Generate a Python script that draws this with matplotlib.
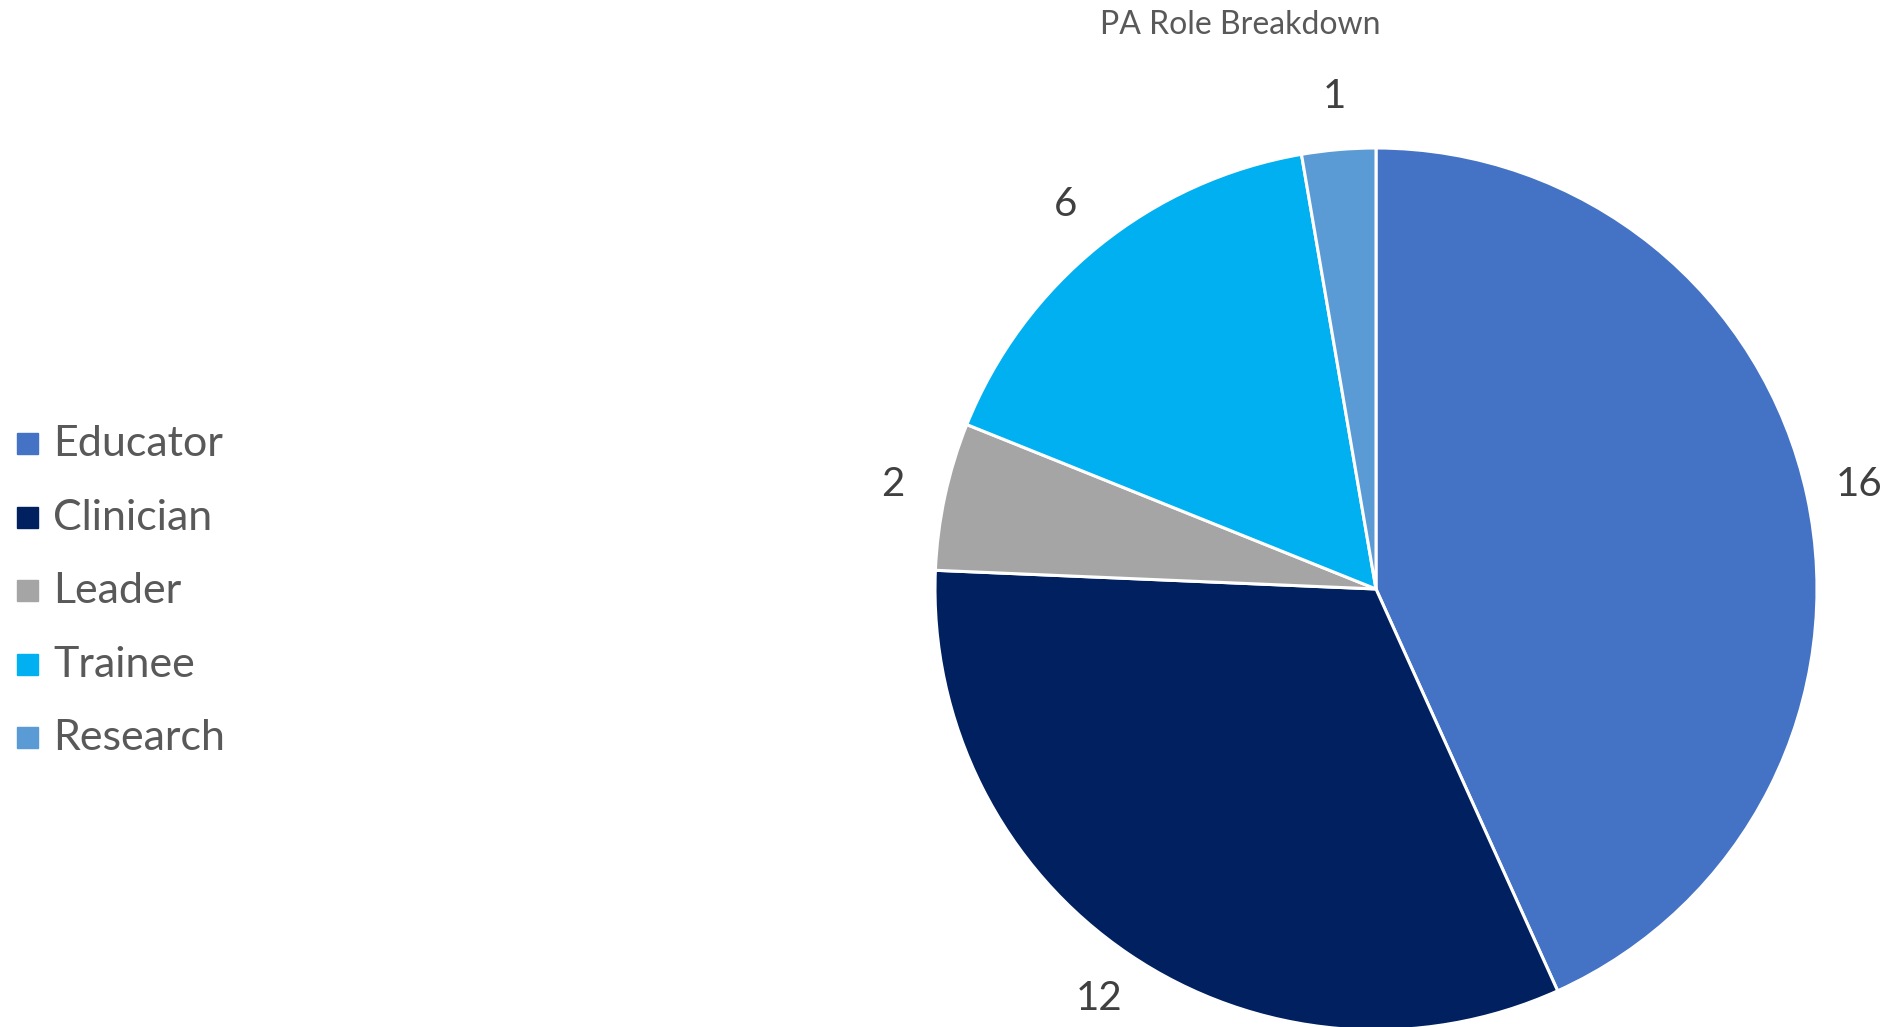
import matplotlib.pyplot as plt
from matplotlib.patches import Rectangle

plt.rcParams['font.family'] = ['Lato', 'DejaVu Sans']

roles = ['Educator', 'Clinician', 'Leader', 'Trainee', 'Research']
counts = [16, 12, 2, 6, 1]
colors = ['#4472C4', '#002060', '#A5A5A5', '#00B0F0', '#5B9BD5']

W, H = 1893, 1027
fig = plt.figure(figsize=(W / 100, H / 100), dpi=100)
ax = fig.add_axes([0, 0, 1, 1])

# pie in pixel space, starts at 12 o'clock going clockwise
wedges, texts = ax.pie(counts, colors=colors, labels=[str(c) for c in counts],
                       startangle=90, counterclock=False,
                       center=(1376, H - 589), radius=441,
                       labeldistance=1.12, frame=True,
                       wedgeprops=dict(edgecolor='white', linewidth=2.2),
                       textprops=dict(fontsize=29, color='#404040'))
for t in texts:
    t.set_ha('center')
    t.set_va('center')
ax.set_xlim(0, W)
ax.set_ylim(0, H)
ax.set_aspect('equal')
ax.axis('off')

fig.text(1240 / W, 1 - 25 / H, 'PA Role Breakdown', ha='center', va='center',
         fontsize=23, color='#595959')

# legend on the left
for i, (name, c) in enumerate(zip(roles, colors)):
    y = 444 + i * 73.6
    fig.patches.append(Rectangle((17 / W, 1 - (y + 10) / H), 21 / W, 21 / H,
                                 transform=fig.transFigure, color=c))
    fig.text(53 / W, 1 - y / H, name, ha='left', va='center',
             fontsize=31, color='#595959')

plt.savefig('out.png', dpi=100)
